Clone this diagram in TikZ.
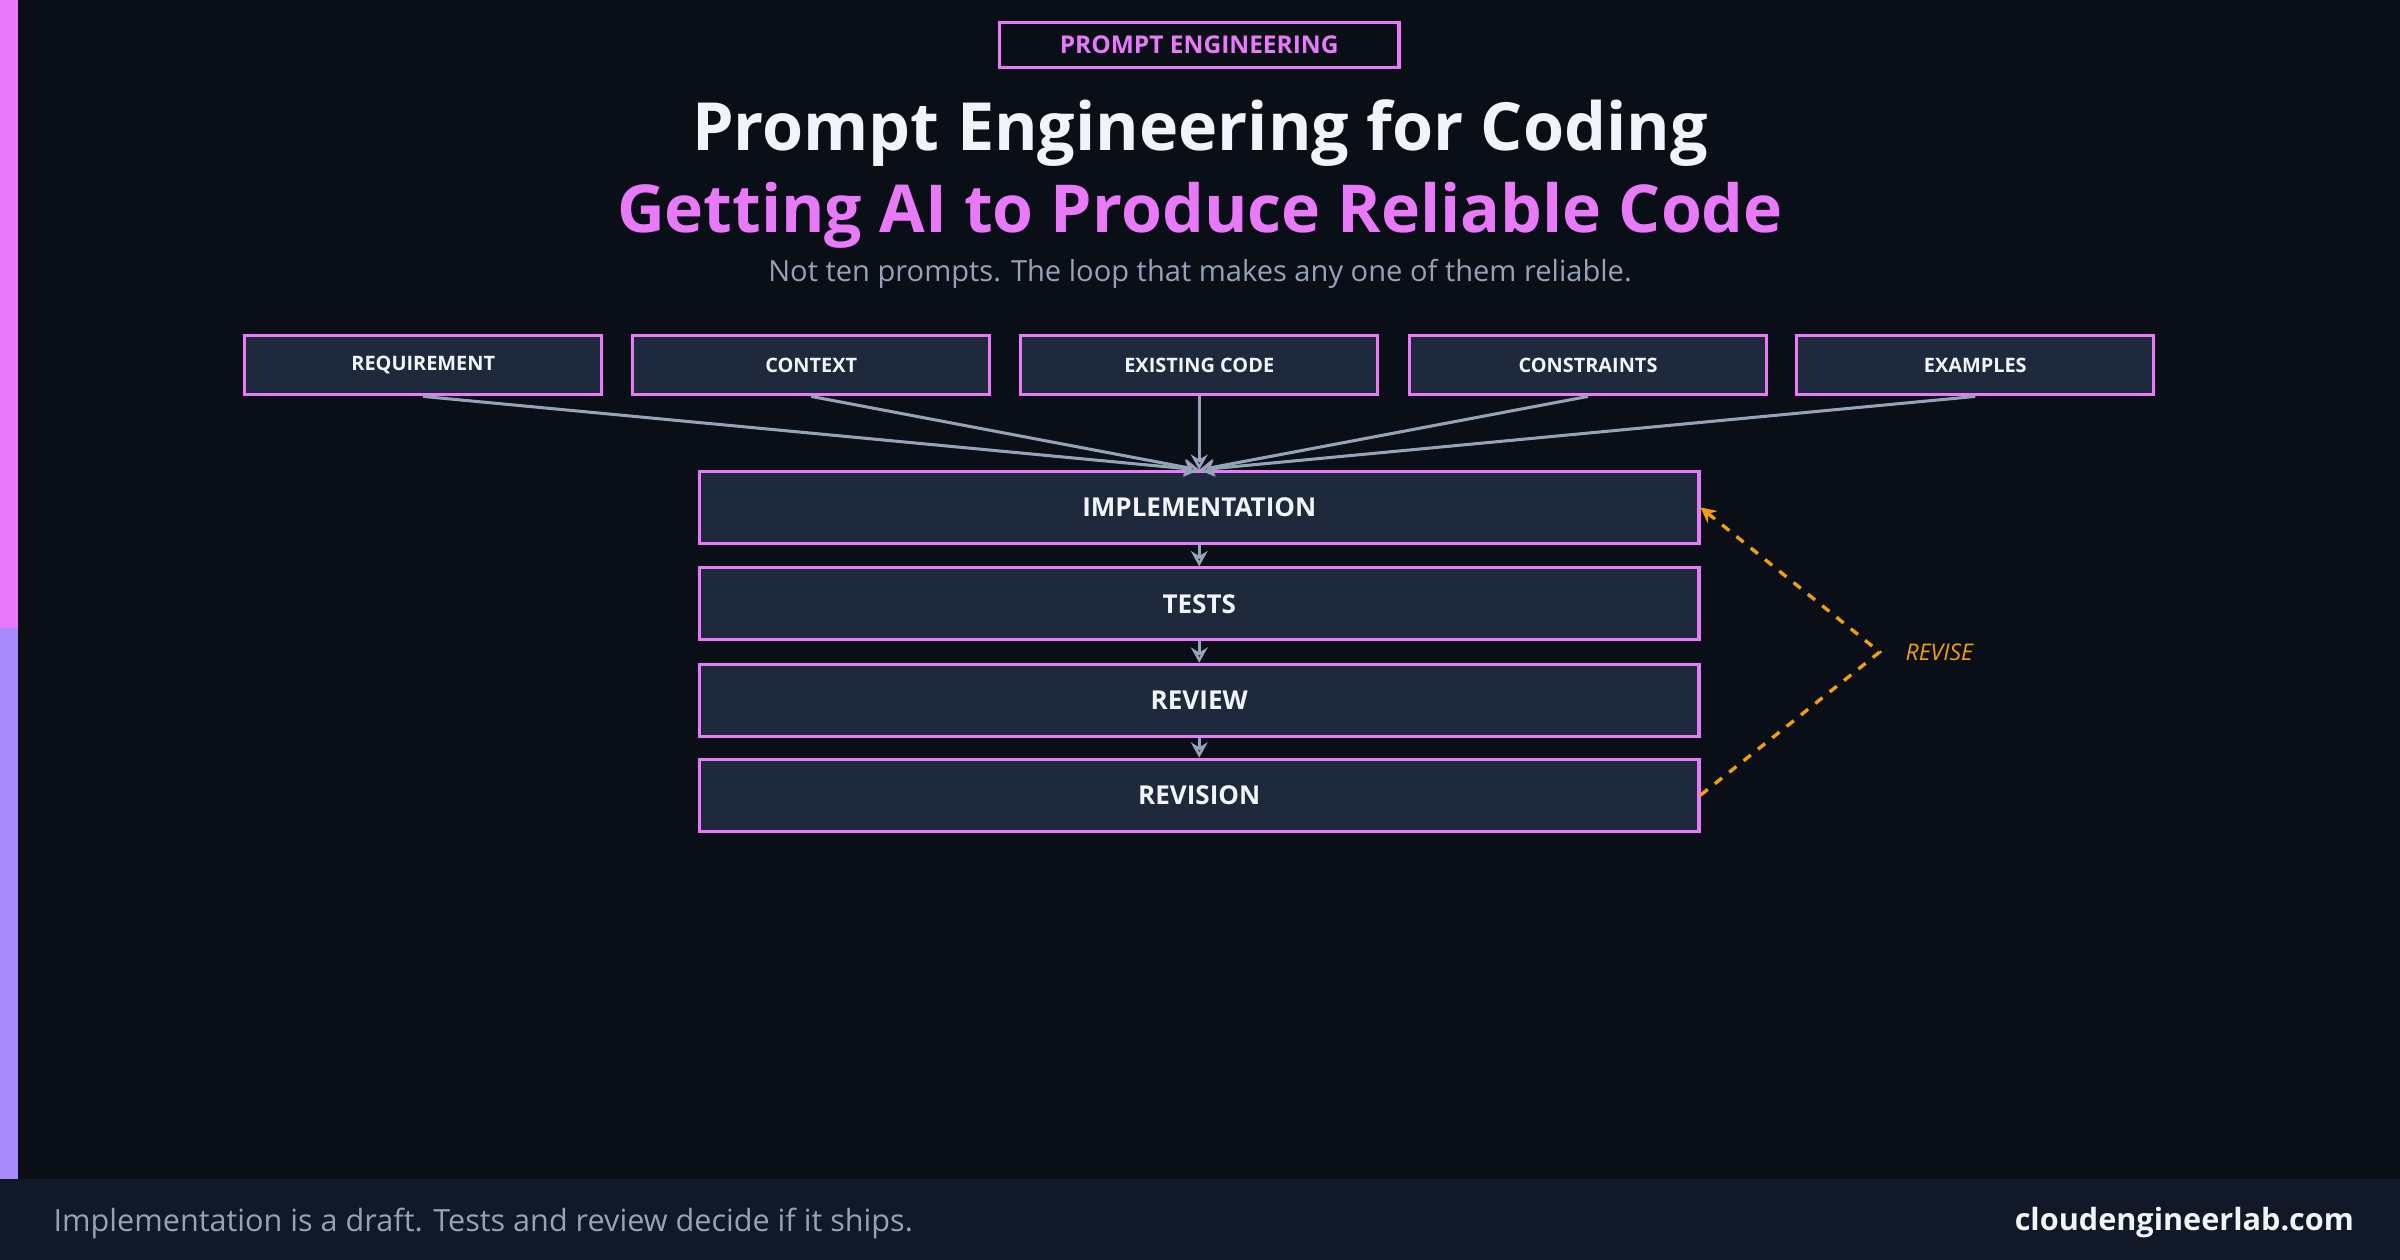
\documentclass[tikz,border=0pt]{standalone}
\usepackage{fontspec}
\setmainfont{Open Sans}
\usetikzlibrary{arrows.meta}
\definecolor{bg}{HTML}{0A0E17}
\definecolor{foot}{HTML}{111827}
\definecolor{boxf}{HTML}{1E293B}
\definecolor{pink}{HTML}{E879F9}
\definecolor{purp}{HTML}{A78BFA}
\definecolor{grayt}{HTML}{94A3B8}
\definecolor{orng}{HTML}{F59E0B}
\definecolor{wht}{HTML}{F1F5F9}
\tikzset{
 top/.style={draw=pink,line width=1pt,fill=boxf,minimum width=116.5pt,minimum height=19.5pt,inner sep=0pt,text=wht,font=\fontsize{6.5}{7}\selectfont\bfseries},
 main/.style={draw=pink,line width=1pt,fill=boxf,minimum width=326.5pt,minimum height=23.5pt,inner sep=0pt,text=wht,font=\fontsize{8.5}{9}\selectfont\bfseries},
 con/.style={draw=grayt,line width=1pt,-{Stealth[length=5pt,width=5.5pt,open]}},
}
\begin{document}
\begin{tikzpicture}[x=0.5pt,y=-0.5pt]
\useasboundingbox (0,0) rectangle (1568,823);
\fill[bg] (0,0) rectangle (1568,823);
\fill[pink] (0,0) rectangle (12,410);
\fill[purp] (0,410) rectangle (12,770);
\fill[foot] (0,770) rectangle (1568,823);
\node[anchor=west,text=grayt,font=\fontsize{10}{12}\selectfont] (ft) at (28,799) {Implementation is a draft. Tests and review decide if it ships.};
\node[anchor=east,text=wht,font=\fontsize{10}{12}\selectfont\bfseries] (site) at (1545,799) {cloudengineerlab.com};
\node[draw=pink,line width=1pt,minimum width=130.5pt,minimum height=14.5pt,inner sep=0pt,text=pink,font=\fontsize{8}{9}\selectfont\bfseries] (tag) at (783.5,29.5) {PROMPT ENGINEERING};
\node[text=wht,font=\fontsize{21.7}{24}\selectfont\bfseries] (t1) at (784,87) {Prompt Engineering for Coding};
\node[text=pink,font=\fontsize{21.6}{25}\selectfont\bfseries] (t2) at (784,141) {Getting AI to Produce Reliable Code};
\node[text=grayt,font=\fontsize{9.5}{11}\selectfont] (t3) at (784,179) {Not ten prompts. The loop that makes any one of them reliable.};
\node[top] (a) at (276.5,238.5) {REQUIREMENT};
\node[top] (b) at (530,238.5) {CONTEXT};
\node[top] (c) at (783.5,238.5) {EXISTING CODE};
\node[top] (d) at (1037.5,238.5) {CONSTRAINTS};
\node[top] (e) at (1290.5,238.5) {EXAMPLES};
\node[main] (m1) at (783.5,331.5) {IMPLEMENTATION};
\node[main] (m2) at (783.5,394.5) {TESTS};
\node[main] (m3) at (783.5,457.5) {REVIEW};
\node[main] (m4) at (783.5,519.5) {REVISION};
\foreach \n in {a,b,c,d,e} \draw[con] (\n.south) -- (m1.north);
\draw[con] (m1) -- (m2);
\draw[con] (m2) -- (m3);
\draw[con] (m3) -- (m4);
\coordinate (rv) at (1228,426);
\draw[orng,line width=1.1pt,dashed,-{Stealth[length=5pt,width=5pt]}] (m4.east) -- (rv) -- (m1.east);
\node[anchor=west,text=orng,font=\fontsize{7.5}{9}\selectfont\itshape] (rl) at (1238,426) {REVISE};
\end{tikzpicture}
\end{document}
